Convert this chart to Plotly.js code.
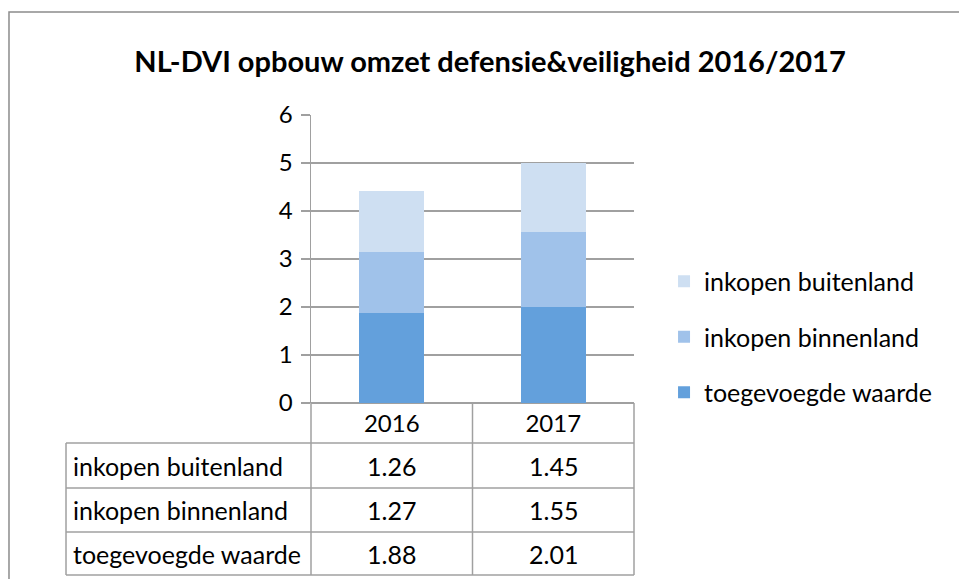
<!DOCTYPE html>
<html>
<head>
<meta charset="utf-8">
<script src="https://cdn.plot.ly/plotly-3.0.1.min.js"></script>
<style>html,body{margin:0;padding:0;background:#fff;}#chart{width:959px;height:579px;}</style>
</head>
<body>
<div id="chart"></div>
<script>
// ---- data ----
const categories = ['2016', '2017'];
const seriesNames = ['toegevoegde waarde', 'inkopen binnenland', 'inkopen buitenland'];
const toegevoegdeWaarde = [1.88, 2.01];
const inkopenBinnenland = [1.27, 1.55];
const inkopenBuitenland = [1.26, 1.45];
const yTicks = [0, 1, 2, 3, 4, 5, 6];

// ---- styles ----
const colors = ['#63a0dc', '#a0c2ea', '#cedff2'];
const FONT = 'Lato, "Open Sans", sans-serif';
const gridColor = '#a0a0a0';
const seriesValues = [toegevoegdeWaarde, inkopenBinnenland, inkopenBuitenland];

const traces = seriesValues.map((vals, i) => ({
  type: 'bar',
  name: seriesNames[i],
  x: categories,
  y: vals,
  legendgroup: 'g' + i,
  legendrank: 3 - i,
  marker: {color: colors[i], line: {width: 0}},
  hoverinfo: 'x+y+name'
}));

// table geometry (paper coords)
const rowLines = [-0.13889, -0.29514, -0.44792, -0.59722];
const tableLeft = -0.7585;
const lineStyle = {color: gridColor, width: 1.5};
const shapes = [];
rowLines.forEach(y => shapes.push({type: 'line', xref: 'paper', yref: 'paper', x0: tableLeft, x1: 1, y0: y, y1: y, line: lineStyle}));
[0, 0.5, 1].forEach(x => shapes.push({type: 'line', xref: 'paper', yref: 'paper', x0: x, x1: x, y0: 0, y1: rowLines[3], line: lineStyle}));
shapes.push({type: 'line', xref: 'paper', yref: 'paper', x0: tableLeft, x1: tableLeft, y0: rowLines[0], y1: rowLines[3], line: lineStyle});
// outer chart border
shapes.push({type: 'rect', xref: 'paper', yref: 'paper', x0: -0.935, x1: 2.02, y0: 1.3576, y1: -0.64, line: {color: '#8c8c8c', width: 1.5}, layer: 'below'});

// table text
const annotations = [];
const tableRows = [
  {name: seriesNames[2], vals: inkopenBuitenland},
  {name: seriesNames[1], vals: inkopenBinnenland},
  {name: seriesNames[0], vals: toegevoegdeWaarde}
];
tableRows.forEach((row, r) => {
  const yc = (rowLines[r] + rowLines[r + 1]) / 2;
  annotations.push({xref: 'paper', yref: 'paper', x: tableLeft + 0.016, y: yc, xanchor: 'left', yanchor: 'middle',
    text: row.name, showarrow: false, font: {family: FONT, size: 25, color: '#000'}});
  row.vals.forEach((v, c) => {
    annotations.push({xref: 'x', yref: 'paper', x: c, y: yc, xanchor: 'center', yanchor: 'middle',
      text: v.toFixed(2), showarrow: false, font: {family: FONT, size: 25, color: '#000'}});
  });
});

const layout = {
  width: 959, height: 579,
  margin: {l: 311, r: 325, t: 115, b: 176},
  paper_bgcolor: '#fff', plot_bgcolor: '#fff',
  barmode: 'stack',
  bargap: 0.6,
  title: {text: '<b>NL-DVI opbouw omzet defensie&veiligheid 2016/2017</b>', x: 0.511, xanchor: 'center', y: 0.893, yanchor: 'middle',
    font: {family: FONT, size: 29, color: '#000'}},
  xaxis: {type: 'category', range: [-0.5, 1.5], showgrid: false, showline: false, zeroline: false, ticks: '',
    tickfont: {family: FONT, size: 24, color: '#000'}, ticklabelstandoff: 4, fixedrange: true},
  yaxis: {range: [0, 6], tickvals: yTicks, ticktext: yTicks.map(String), showgrid: true, gridcolor: gridColor, gridwidth: 1.5,
    showline: true, linecolor: gridColor, linewidth: 1.5, ticks: 'outside', ticklen: 9, tickcolor: gridColor, tickwidth: 1.5,
    zeroline: true, zerolinecolor: gridColor, zerolinewidth: 1.5,
    tickfont: {family: FONT, size: 24, color: '#000'}, ticklabelstandoff: 3, fixedrange: true},
  showlegend: true,
  legend: {x: 1.093, xanchor: 'left', y: 0.229, yanchor: 'middle', traceorder: 'grouped', tracegroupgap: 20,
    font: {family: FONT, size: 25, color: '#000'}, itemwidth: 30, bgcolor: 'rgba(0,0,0,0)'},
  shapes: shapes,
  annotations: annotations
};

Plotly.newPlot('chart', traces, layout, {displayModeBar: false, staticPlot: true});
</script>
</body>
</html>
